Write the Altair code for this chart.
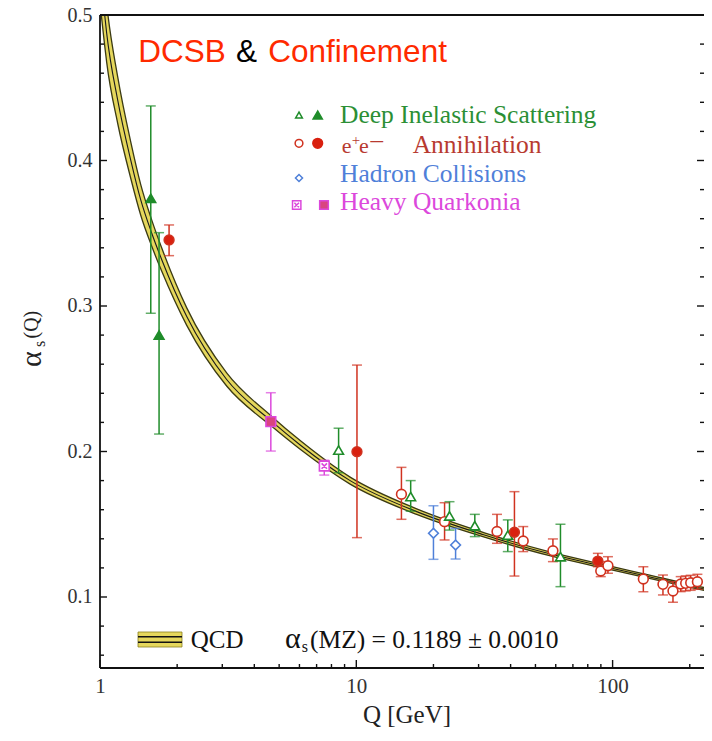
import altair as alt
import pandas as pd

# ---------------- data ----------------
# QCD running-coupling band (centre and half-width)
curve_Q = [1.0, 1.043, 1.062, 1.172, 1.318, 1.442, 1.592, 1.74, 2.18, 3.12,
           4.69, 6.04, 9.46, 17.3, 31.4, 57.3, 89.8, 131.0, 220.6, 245.0]
curve_alpha = [0.532, 0.500, 0.4874, 0.4416, 0.4003, 0.3729, 0.350, 0.332, 0.2927,
               0.2495, 0.2205, 0.2045, 0.1800, 0.1585, 0.1428, 0.1295, 0.1215,
               0.1150, 0.1060, 0.1043]
curve_half = [0.024, 0.021, 0.020, 0.016, 0.0125, 0.0105, 0.009, 0.008, 0.006, 0.0045,
              0.0034, 0.003, 0.0024, 0.0019, 0.0015, 0.0013, 0.0012, 0.0011,
              0.001, 0.001]

# measurements
pt_Q = [1.578, 1.70, 1.86, 4.64, 7.5, 8.53, 10.06, 15.0, 16.3, 20.0, 22.1, 23.1, 24.4,
        29.0, 35.4, 39.0, 41.4, 44.8, 58.5, 62.6, 87.6, 89.9, 95.9, 131.8, 157.2, 172.0,
        184.4, 192.8, 201.7, 214.2]
pt_alpha = [0.374, 0.280, 0.3454, 0.2205, 0.190, 0.201, 0.1999, 0.1706, 0.169, 0.1438,
            0.1518, 0.1557, 0.1357, 0.149, 0.145, 0.1426, 0.1445, 0.1385, 0.1318, 0.1277,
            0.1247, 0.1179, 0.1215, 0.1124, 0.1087, 0.1041, 0.1089, 0.1094, 0.1098, 0.1105]
pt_lo = [0.295, 0.212, 0.3346, 0.2003, 0.1838, 0.1854, 0.1408, 0.1534, 0.159, 0.1259,
         0.1392, 0.146, 0.1261, 0.1415, 0.1369, 0.1312, 0.1144, 0.1312, 0.1243, 0.1071,
         0.1208, 0.1140, 0.1163, 0.1036, 0.1014, 0.0964, 0.1037, 0.1042, 0.1046, 0.1053]
pt_hi = [0.4375, 0.3504, 0.3557, 0.2404, 0.194, 0.216, 0.2594, 0.1891, 0.180, 0.1627,
         0.1648, 0.1655, 0.1472, 0.1568, 0.1568, 0.153, 0.1724, 0.1484, 0.1399, 0.150,
         0.130, 0.1243, 0.1277, 0.1208, 0.1151, 0.1105, 0.1140, 0.1145, 0.1149, 0.1156]
pt_marker = ["dis_f", "dis_f", "ee_f", "qk_f", "qk_o", "dis_o", "ee_f", "ee_o", "dis_o",
             "had_o", "ee_o", "dis_o", "had_o", "dis_o", "ee_o", "dis_o", "ee_f", "ee_o",
             "ee_o", "dis_o", "ee_f", "ee_o", "ee_o", "ee_o", "ee_o", "ee_o", "ee_o",
             "ee_o", "ee_o", "ee_o"]

y_major = [0.1, 0.2, 0.3, 0.4, 0.5]
y_minor = [0.06, 0.08, 0.12, 0.14, 0.16, 0.18, 0.22, 0.24, 0.26, 0.28, 0.32, 0.34,
           0.36, 0.38, 0.42, 0.44, 0.46, 0.48]
x_major = [1, 10, 100]
x_minor = [2, 3, 4, 5, 6, 7, 8, 9, 20, 30, 40, 50, 60, 70, 80, 90, 200]

# ---------------- styling ----------------
W, H = 604, 653
G, GT = "#1f8c2a", "#2b8f35"
R, RF, RT = "#d0321f", "#d9200f", "#b83a30"
B = "#4f80d9"
M, MF = "#dc48dc", "#d9457f"
YEL = "#e5d75c"
SERIF = "Liberation Serif"
SANS = "Liberation Sans"
QK_PATH = "M-1,-1H1V1H-1Z M-0.55,-0.55L0.55,0.55 M-0.55,0.55L0.55,-0.55"

markers = ["dis_o", "dis_f", "ee_o", "ee_f", "had_o", "qk_o", "qk_f"]
m_shape = ["triangle-up", "triangle-up", "circle", "circle", "diamond", QK_PATH, "square"]
m_stroke = [G, G, R, R, B, M, M]
m_fill = ["white", G, "white", RF, "white", "white", MF]
m_size = [95, 95, 85, 95, 75, 85, 85]

xsc = alt.Scale(type="log", domain=[1, 227.3], nice=False)
ysc = alt.Scale(domain=[0.0512, 0.5], nice=False, zero=False)
xax = alt.Axis(values=x_major, format="d", ticks=False, domain=False, grid=False,
               labelFlush=False, labelPadding=7, labelFont=SERIF, labelFontSize=21,
               labelColor="#333333", title=None)
yax = alt.Axis(values=y_major, format=".1f", ticks=False, domain=False, grid=False,
               labelFlush=False, labelPadding=8, labelFont=SERIF, labelFontSize=20,
               labelColor="#333333", title=None)


def X(f):
    return alt.X(f, type="quantitative", scale=xsc, axis=xax)


def Y(f):
    return alt.Y(f, type="quantitative", scale=ysc, axis=yax)


curve = pd.DataFrame({"Q": curve_Q, "a": curve_alpha, "h": curve_half})
curve["lo"] = curve["a"] - curve["h"]
curve["hi"] = curve["a"] + curve["h"]

pts = pd.DataFrame({"Q": pt_Q, "a": pt_alpha, "lo": pt_lo, "hi": pt_hi, "m": pt_marker})

band = alt.Chart(curve).mark_area(color=YEL, opacity=1, interpolate="monotone", clip=True).encode(
    x=X("Q"), y=Y("lo"), y2="hi")
edge_lo = alt.Chart(curve).mark_line(color="#3b3a12", strokeWidth=1.3, interpolate="monotone", clip=True).encode(
    x=X("Q"), y=Y("lo"))
edge_hi = alt.Chart(curve).mark_line(color="#3b3a12", strokeWidth=1.3, interpolate="monotone", clip=True).encode(
    x=X("Q"), y=Y("hi"))
centre = alt.Chart(curve).mark_line(color="#1a1a1a", strokeWidth=1.1, interpolate="monotone", clip=True).encode(
    x=X("Q"), y=Y("a"))

mcol = alt.Scale(domain=markers, range=m_stroke)
err = alt.Chart(pts).mark_rule(strokeWidth=1.5).encode(
    x=X("Q"), y=Y("lo"), y2="hi", color=alt.Color("m:N", scale=mcol, legend=None))
cap_lo = alt.Chart(pts).mark_tick(orient="horizontal", size=10, thickness=1.5).encode(
    x=X("Q"), y=Y("lo"), color=alt.Color("m:N", scale=mcol, legend=None))
cap_hi = alt.Chart(pts).mark_tick(orient="horizontal", size=10, thickness=1.5).encode(
    x=X("Q"), y=Y("hi"), color=alt.Color("m:N", scale=mcol, legend=None))
points = alt.Chart(pts).mark_point(filled=True, strokeWidth=1.6, opacity=1, fillOpacity=1).encode(
    x=X("Q"), y=Y("a"),
    shape=alt.Shape("m:N", scale=alt.Scale(domain=markers, range=m_shape), legend=None),
    fill=alt.Fill("m:N", scale=alt.Scale(domain=markers, range=m_fill), legend=None),
    stroke=alt.Stroke("m:N", scale=mcol, legend=None),
    size=alt.Size("m:N", scale=alt.Scale(domain=markers, range=m_size), legend=None))

# inward ticks
ymaj = pd.DataFrame({"v": y_major})
ymin = pd.DataFrame({"v": y_minor})
xmaj = pd.DataFrame({"v": x_major})
xmin = pd.DataFrame({"v": x_minor})
tk = dict(color="#111111", strokeWidth=1.4)
ticks = [
    alt.Chart(ymaj).mark_rule(**tk).encode(y=Y("v"), x=alt.value(0), x2=alt.value(7)),
    alt.Chart(ymin).mark_rule(**tk).encode(y=Y("v"), x=alt.value(0), x2=alt.value(4)),
    alt.Chart(ymaj).mark_rule(**tk).encode(y=Y("v"), x=alt.value(W), x2=alt.value(W - 7)),
    alt.Chart(ymin).mark_rule(**tk).encode(y=Y("v"), x=alt.value(W), x2=alt.value(W - 4)),
    alt.Chart(xmaj).mark_rule(**tk).encode(x=X("v"), y=alt.value(H), y2=alt.value(H - 8)),
    alt.Chart(xmin).mark_rule(**tk).encode(x=X("v"), y=alt.value(H), y2=alt.value(H - 4)),
]

one = pd.DataFrame({"k": [0]})

# frame: left, top and bottom (right side is cut off in the original)
fr = dict(color="#111111", strokeWidth=1.8)
frame = [
    alt.Chart(one).mark_rule(**fr).encode(x=alt.value(0), y=alt.value(0), y2=alt.value(H)),
    alt.Chart(one).mark_rule(**fr).encode(x=alt.value(0), x2=alt.value(W), y=alt.value(0)),
    alt.Chart(one).mark_rule(**fr).encode(x=alt.value(0), x2=alt.value(W), y=alt.value(H)),
]


def txt(s, x, y, size, color, font=SERIF, angle=0, align="left", baseline="alphabetic"):
    return alt.Chart(one).mark_text(text=s, fontSize=size, color=color, font=font, angle=angle,
                                    align=align, baseline=baseline).encode(
        x=alt.value(x), y=alt.value(y))


def sym(shape, x, y, size, fill, stroke, sw=1.5):
    return alt.Chart(one).mark_point(shape=shape, size=size, filled=True, fill=fill, stroke=stroke,
                                     strokeWidth=sw, opacity=1, fillOpacity=1).encode(
        x=alt.value(x), y=alt.value(y))


annots = [
    # title
    txt("DCSB", 38.3, 47, 31.5, "#ff2a00", font=SANS),
    txt("&", 136, 47, 31.5, "#000000", font=SANS),
    txt("Confinement", 168.3, 47, 31.5, "#ff2a00", font=SANS),
    # legend symbols
    sym("triangle-up", 199, 100, 45, "white", G),
    sym("triangle-up", 217.7, 100, 85, G, G),
    sym("circle", 199, 128.3, 60, "white", R),
    sym("circle", 217.7, 128.3, 95, RF, RF),
    sym("diamond", 199, 163, 50, "white", B),
    sym(QK_PATH, 196.7, 190, 70, "white", M),
    sym("square", 224, 190, 75, MF, M),
    # legend labels
    txt("Deep Inelastic Scattering", 240, 108.3, 25.5, GT),
    txt("e", 241.7, 138, 22, RT),
    txt("+", 251.8, 130, 15, RT),
    txt("e", 259, 138, 22, RT),
    txt("\u2013", 270.5, 133, 25, RT),
    txt("Annihilation", 312.7, 138, 25.5, RT),
    txt("Hadron Collisions", 240, 166.7, 25.5, B),
    txt("Heavy Quarkonia", 240, 195, 25.5, M),
    # QCD legend
    txt("QCD", 90.7, 632.7, 25, "#111111"),
    txt("\u03b1", 185, 632.7, 30, "#111111"),
    txt("s", 201.7, 637, 16, "#111111"),
    txt("(MZ) = 0.1189 \u00b1 0.0010", 210, 632.7, 25.5, "#111111"),
    # axis titles
    txt("Q [GeV]", 307, 708, 25, "#222222", align="center"),
    txt("\u03b1", -59, 352, 30, "#222222", angle=270),
    txt("s", -55, 332, 16, "#222222", angle=270),
    txt("(Q)", -62, 323.5, 20, "#222222", angle=270),
]

qcd_sym = [
    alt.Chart(one).mark_rect(color=YEL, stroke="#8a8020", strokeWidth=0.8).encode(
        x=alt.value(38), x2=alt.value(82), y=alt.value(617), y2=alt.value(632)),
    alt.Chart(one).mark_rule(color="#111111", strokeWidth=1.5).encode(
        x=alt.value(38), x2=alt.value(82), y=alt.value(621.8)),
    alt.Chart(one).mark_rule(color="#111111", strokeWidth=1.5).encode(
        x=alt.value(38), x2=alt.value(82), y=alt.value(627.2)),
]

chart = alt.layer(
    band, edge_lo, edge_hi, centre, err, cap_lo, cap_hi, points, *ticks, *frame, *qcd_sym, *annots
).properties(
    width=W, height=H,
    padding={"left": 92, "top": 7, "right": 0, "bottom": 61},
    autosize=alt.AutoSizeParams(type="none"),
    background="white",
).configure_view(stroke=None)

chart.save("out.html", embed_options={"renderer": "svg", "actions": False})
